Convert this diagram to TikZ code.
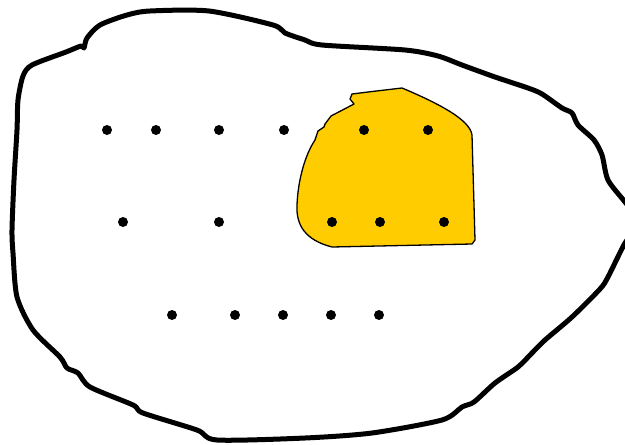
\documentclass[tikz,border=0pt]{standalone}
\definecolor{gold}{HTML}{FFCC00}
\tikzset{
  blob/.style={line width=5pt, line join=round, draw=black, fill=white},
  yolk/.style={line width=1.3pt, line join=round, draw=black, fill=gold},
  dot/.style={circle, fill=black, inner sep=0pt, minimum size=10pt}
}
\begin{document}
\begin{tikzpicture}[x=1pt,y=-1pt]
\useasboundingbox (0,0) rectangle (625,445);
\begin{scope}
\clip (0,0) rectangle (625,445);
\draw[blob] plot[smooth cycle, tension=0.45] coordinates {
 (209,11) (273,25) (285,33) (305,40) (322,45) (405,50) (438,56) (462,65)
 (495,77) (528,88) (542,94) (562,108) (572,113) (578,125) (594,140) (602,155)
 (608,180) (625,202) (640,222) (625,243) (608,277) (600,289) (572,317)
 (545,340) (532,353) (518,367) (495,383) (474,402) (462,407) (442,420)
 (372,433) (305,438) (217,440) (197,430) (143,413) (133,405) (90,387)
 (78,373) (67,368) (60,357) (33,330) (17,297) (13,253) (12,230) (14,180)
 (17,130) (18,100) (23,76) (32,65) (66,52) (81,46) (84,48) (87,38)
 (100,25) (127,15) (150,11) };
\end{scope}
\draw[yolk] (402,88) .. controls (440,104) and (470,120) .. (472,135)
  -- (475,240) -- (472,244) -- (332,247)
  .. controls (305,240) and (296,225) .. (297,205)
  .. controls (298,180) and (305,155) .. (315,140)
  -- (318,131) -- (324,127) -- (325,124) -- (331,116) -- (354,104) -- (350,99) -- (352,94) -- (368,92) -- cycle;
\foreach \n/\x/\y in {a1/107/130, a2/156/130, a3/219/130, a4/284/130, a5/364/130, a6/428/130,
  b1/123/222, b2/219/222, b3/332/222, b4/380/222, b5/444/222,
  c1/172/315, c2/235/315, c3/283/315, c4/331/315, c5/379/315}
  \node[dot] (\n) at (\x,\y) {};
\end{tikzpicture}
\end{document}
